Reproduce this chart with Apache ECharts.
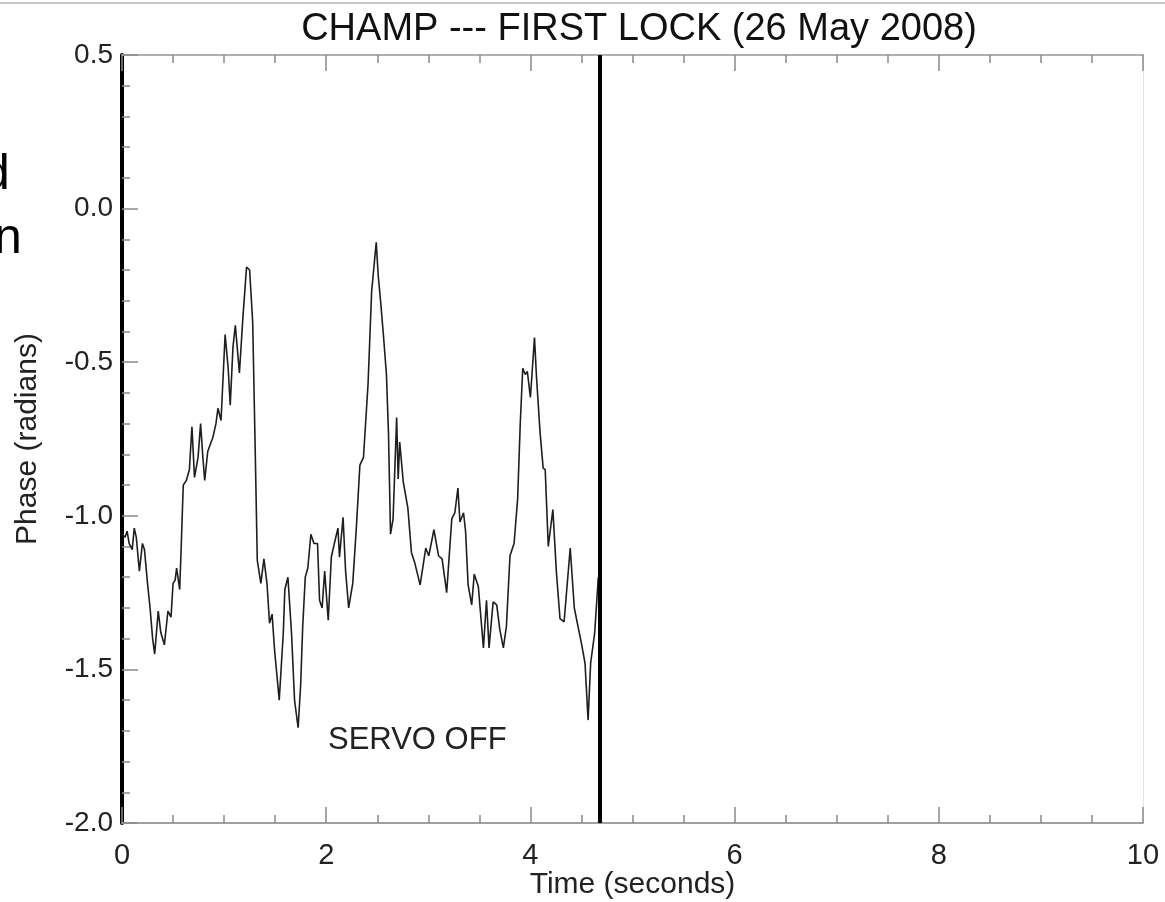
<!DOCTYPE html>
<html>
<head>
<meta charset="utf-8">
<title>CHAMP --- FIRST LOCK</title>
<script src="https://cdn.jsdelivr.net/npm/echarts@6/dist/echarts.min.js"></script>
<style>
  html, body { margin: 0; padding: 0; background: #fff; }
  #chart { width: 1165px; height: 902px; }
</style>
</head>
<body>
<div id="chart"></div>
<script>
// Phase of the first lock, sampled in time (seconds)
const timeSec = [
  0.00, 0.03, 0.05, 0.07, 0.10, 0.12, 0.14, 0.17, 0.20, 0.22,
  0.25, 0.275, 0.30, 0.32, 0.355, 0.38, 0.415, 0.45, 0.48, 0.50,
  0.52, 0.535, 0.565, 0.58, 0.60, 0.63, 0.66, 0.685, 0.71, 0.745,
  0.77, 0.79, 0.81, 0.84, 0.89, 0.92, 0.94, 0.97, 1.01, 1.04,
  1.06, 1.087, 1.11, 1.15, 1.185, 1.22, 1.25, 1.28, 1.305, 1.325,
  1.36, 1.39, 1.42, 1.445, 1.47, 1.495, 1.54, 1.58, 1.595, 1.625,
  1.66, 1.69, 1.725, 1.75, 1.77, 1.795, 1.82, 1.85, 1.88, 1.915,
  1.935, 1.96, 1.985, 2.02, 2.05, 2.08, 2.115, 2.13, 2.165, 2.19,
  2.22, 2.26, 2.295, 2.33, 2.365, 2.41, 2.445, 2.49, 2.51, 2.535,
  2.56, 2.59, 2.61, 2.63, 2.655, 2.69, 2.705, 2.72, 2.755, 2.80,
  2.835, 2.865, 2.92, 2.95, 2.975, 3.005, 3.055, 3.10, 3.135, 3.18,
  3.23, 3.26, 3.29, 3.31, 3.345, 3.365, 3.39, 3.425, 3.45, 3.49,
  3.54, 3.57, 3.595, 3.635, 3.67, 3.70, 3.735, 3.765, 3.80, 3.84,
  3.875, 3.90, 3.925, 3.95, 3.97, 4.00, 4.04, 4.06, 4.095, 4.125,
  4.145, 4.175, 4.22, 4.255, 4.29, 4.33, 4.39, 4.43, 4.46, 4.50,
  4.535, 4.565, 4.59, 4.63, 4.665
];
const phaseRad = [
  -1.06, -1.07, -1.05, -1.09, -1.11, -1.04, -1.07, -1.18, -1.09, -1.11,
  -1.22, -1.30, -1.40, -1.45, -1.31, -1.38, -1.42, -1.31, -1.33, -1.22,
  -1.21, -1.17, -1.24, -1.10, -0.90, -0.885, -0.85, -0.71, -0.875, -0.81,
  -0.70, -0.80, -0.885, -0.79, -0.745, -0.70, -0.65, -0.69, -0.41, -0.52,
  -0.64, -0.45, -0.38, -0.535, -0.35, -0.19, -0.20, -0.37, -0.79, -1.145,
  -1.22, -1.14, -1.22, -1.35, -1.32, -1.44, -1.60, -1.38, -1.24, -1.20,
  -1.38, -1.60, -1.69, -1.55, -1.36, -1.20, -1.17, -1.06, -1.09, -1.09,
  -1.275, -1.30, -1.18, -1.34, -1.135, -1.09, -1.04, -1.135, -1.005, -1.18,
  -1.30, -1.22, -1.04, -0.835, -0.81, -0.57, -0.27, -0.11, -0.22, -0.31,
  -0.41, -0.54, -0.73, -1.06, -1.01, -0.68, -0.88, -0.76, -0.89, -0.975,
  -1.12, -1.15, -1.225, -1.16, -1.105, -1.13, -1.045, -1.13, -1.14, -1.25,
  -1.01, -0.99, -0.91, -1.02, -0.99, -1.05, -1.225, -1.29, -1.19, -1.23,
  -1.43, -1.275, -1.43, -1.28, -1.29, -1.37, -1.43, -1.36, -1.13, -1.09,
  -0.945, -0.705, -0.52, -0.54, -0.53, -0.615, -0.42, -0.55, -0.73, -0.845,
  -0.85, -1.10, -0.98, -1.185, -1.335, -1.345, -1.105, -1.30, -1.35, -1.415,
  -1.48, -1.665, -1.48, -1.38, -1.20
];
// Moment the servo loop is switched off
const servoOffTime = 4.68;

// Axis ranges and tick steps
const timeRange = [0, 10];
const timeStep = 2;
const phaseRange = [-2.0, 0.5];
const phaseStep = 0.5;

const chartTitle = 'CHAMP --- FIRST LOCK (26 May 2008)';
const xName = 'Time (seconds)';
const yName = 'Phase (radians)';
const noteText = 'SERVO OFF';

const FONT = '"Liberation Sans", Arial, Helvetica, sans-serif';
const lineData = timeSec.map((t, i) => [t, phaseRad[i]]);

const chart = echarts.init(document.getElementById('chart'), null, { renderer: 'canvas' });

const tickGrey = '#8a8a8a';

chart.setOption({
  backgroundColor: '#ffffff',
  animation: false,
  title: {
    text: chartTitle,
    left: 634,
    textAlign: 'center',
    top: 6,
    textStyle: { fontFamily: FONT, fontSize: 38, fontWeight: 'normal', color: '#111' }
  },
  grid: { left: 122, right: 22, top: 55, bottom: 79, containLabel: false, outerBoundsMode: 'none' },
  xAxis: [
    {
      type: 'value', min: timeRange[0], max: timeRange[1], interval: timeStep,
      position: 'bottom',
      name: xName, nameLocation: 'middle', nameGap: 47, nameMoveOverlap: false,
      nameTextStyle: { fontFamily: FONT, fontSize: 30, color: '#222' },
      axisLine: { show: true, onZero: false, lineStyle: { color: '#a0a0a0', width: 2 } },
      axisTick: { show: true, inside: true, length: 16, lineStyle: { color: tickGrey, width: 1.5 } },
      minorTick: { show: true, splitNumber: 4, length: 8, lineStyle: { color: tickGrey, width: 1.5 } },
      splitLine: { show: false },
      axisLabel: { fontFamily: FONT, fontSize: 29, color: '#222', margin: 18 }
    },
    {
      type: 'value', min: timeRange[0], max: timeRange[1], interval: timeStep,
      position: 'top',
      axisLine: { show: true, onZero: false, lineStyle: { color: '#b0b0b0', width: 2 } },
      axisTick: { show: true, inside: true, length: 16, lineStyle: { color: tickGrey, width: 1.5 } },
      minorTick: { show: true, splitNumber: 4, length: 8, lineStyle: { color: tickGrey, width: 1.5 } },
      splitLine: { show: false },
      axisLabel: { show: false }
    }
  ],
  yAxis: [
    {
      type: 'value', min: phaseRange[0], max: phaseRange[1], interval: phaseStep,
      position: 'left',
      name: yName, nameLocation: 'middle', nameGap: 79, nameRotate: 90,
      nameTextStyle: { fontFamily: FONT, fontSize: 30, color: '#222' },
      axisLine: { show: true, onZero: false, lineStyle: { color: '#000', width: 4 } },
      axisTick: { show: true, inside: true, length: 16, lineStyle: { color: tickGrey, width: 1.5 } },
      minorTick: { show: true, splitNumber: 5, length: 8, lineStyle: { color: tickGrey, width: 1.5 } },
      splitLine: { show: false },
      axisLabel: {
        fontFamily: FONT, fontSize: 28, color: '#222', margin: 9,
        formatter: v => v.toFixed(1)
      }
    },
    {
      type: 'value', min: phaseRange[0], max: phaseRange[1], interval: phaseStep,
      position: 'right',
      axisLine: { show: true, onZero: false, lineStyle: { color: '#e2e2e2', width: 1 } },
      axisTick: { show: false },
      splitLine: { show: false },
      axisLabel: { show: false }
    }
  ],
  series: [
    {
      type: 'line',
      data: lineData,
      xAxisIndex: 0, yAxisIndex: 0,
      showSymbol: false,
      lineStyle: { color: '#1e1e1e', width: 1.6 },
      markLine: {
        silent: true,
        symbol: ['none', 'none'],
        label: { show: false },
        lineStyle: { color: '#000', width: 4, type: 'solid' },
        data: [{ xAxis: servoOffTime }]
      },
      z: 3
    }
  ],
  graphic: [
    // thin rule along the very top of the page
    { type: 'line', shape: { x1: 0, y1: 3, x2: 1165, y2: 3 }, style: { stroke: '#c8c8c8', lineWidth: 2 } },
    // word endings cut off at the left edge
    { type: 'text', left: -18, top: 150, style: { text: 'd', font: '50px ' + FONT, fill: '#000' } },
    { type: 'text', left: -6, top: 214, style: { text: 'n', font: '50px ' + FONT, fill: '#000' } },
    // annotation under the curve
    { type: 'text', left: 328, top: 725, style: { text: noteText, font: '31px ' + FONT, fill: '#222' } }
  ]
});
</script>
</body>
</html>
